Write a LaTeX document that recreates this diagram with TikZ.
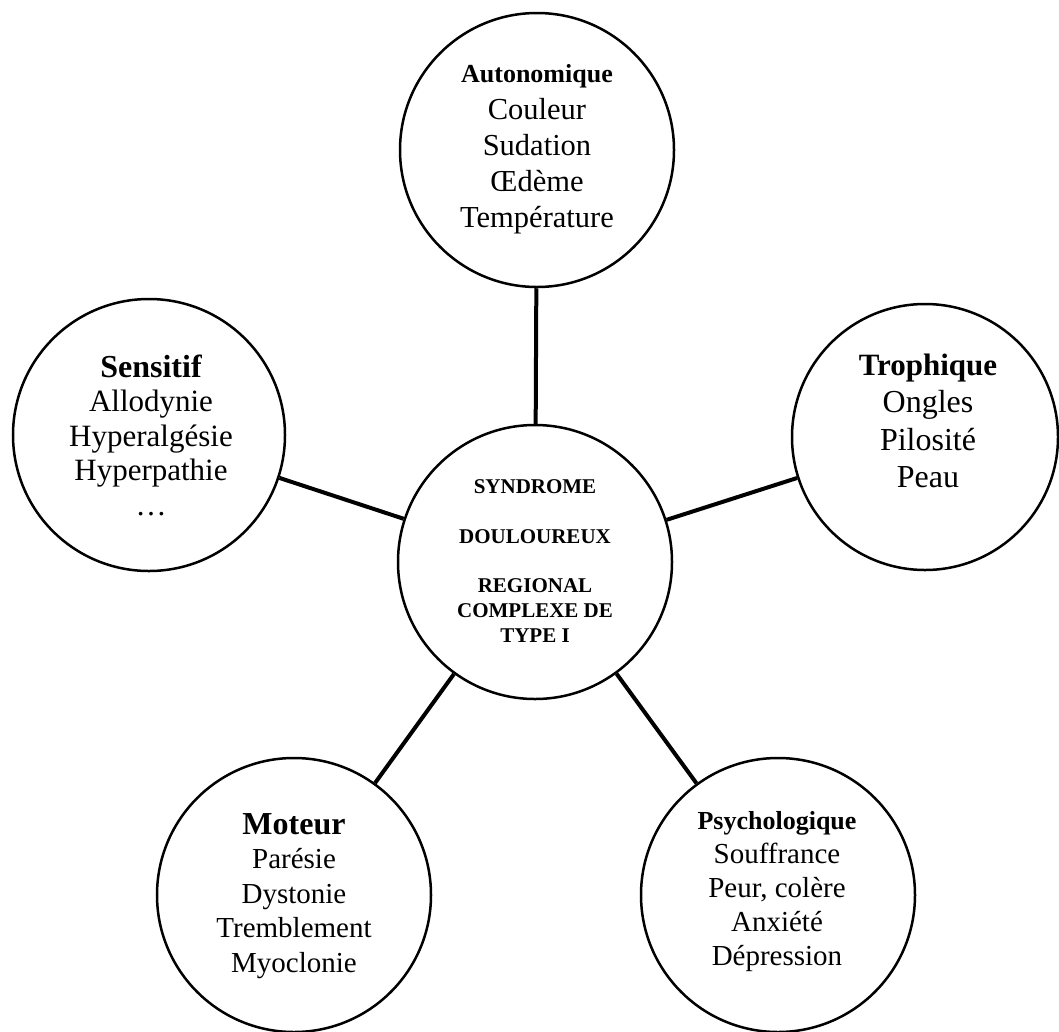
\documentclass[tikz,border=0pt]{standalone}
\usepackage{fontspec}
\setmainfont{Liberation Serif}
\begin{document}
\begin{tikzpicture}[x=1bp,y=-1bp,
  ring/.style={circle,draw,line width=2.5bp,inner sep=0pt,minimum size=274bp},
  conn/.style={line width=4bp},
  txt/.style={align=center,inner sep=0pt}]
\useasboundingbox (0,0) rectangle (1059,1032);
% circles
\node[ring] (auto) at (537,150) {};
\node[ring,minimum size=272bp] (sens) at (149,435) {};
\node[ring,minimum size=266bp] (troph) at (925,437) {};
\node[ring] (mid) at (535,562) {};
\node[ring] (mot) at (294,895) {};
\node[ring] (psy) at (778,895) {};
% connectors
\draw[conn] (mid) -- (auto);
\draw[conn] (mid) -- (sens);
\draw[conn] (mid) -- (troph);
\draw[conn] (mid) -- (mot);
\draw[conn] (mid) -- (psy);
% texts
\node[txt,font=\fontsize{30.5bp}{36.25bp}\selectfont] (auto-t) at (537,149.5)
  {{\fontsize{26bp}{36.25bp}\selectfont\bfseries Autonomique}\\Couleur\\Sudation\\Œdème\\Température};
\node[txt,font=\fontsize{31bp}{34.5bp}\selectfont] (sens-t) at (151,435)
  {{\fontsize{32bp}{34.5bp}\selectfont\bfseries Sensitif}\\Allodynie\\Hyperalgésie\\Hyperpathie\\\dots};
\node[txt,font=\fontsize{32bp}{37.3bp}\selectfont] (troph-t) at (928,421)
  {{\fontsize{31bp}{37.3bp}\selectfont\bfseries Trophique}\\Ongles\\Pilosité\\Peau};
\node[txt,font=\fontsize{21bp}{24.7bp}\selectfont\bfseries] (mid-t) at (535,561)
  {SYNDROME\\[24.7bp]DOULOUREUX\\[24.7bp]REGIONAL\\COMPLEXE DE\\TYPE I};
\node[txt,font=\fontsize{29bp}{34.5bp}\selectfont] (mot-t) at (294,896)
  {{\fontsize{32bp}{34.5bp}\selectfont\bfseries Moteur}\\Parésie\\Dystonie\\Tremblement\\Myoclonie};
\node[txt,font=\fontsize{29bp}{34bp}\selectfont] (psy-t) at (777,892)
  {{\fontsize{26bp}{34bp}\selectfont\bfseries Psychologique}\\Souffrance\\Peur, colère\\Anxiété\\Dépression};
\end{tikzpicture}
\end{document}
